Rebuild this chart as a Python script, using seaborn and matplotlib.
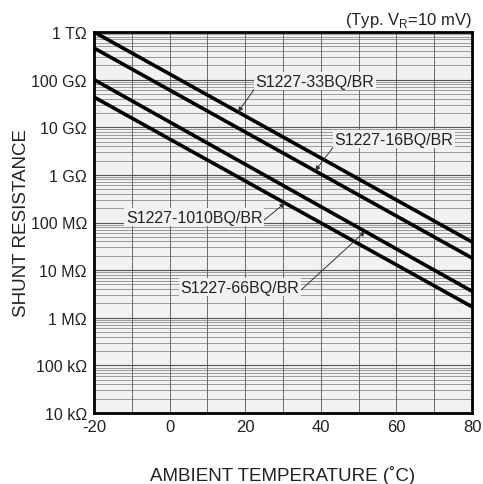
import numpy as np
import pandas as pd
import matplotlib
matplotlib.use("Agg")
import matplotlib.pyplot as plt
from matplotlib.ticker import FixedLocator, LogLocator, NullFormatter
import seaborn as sns

# ---- data ----
temperature = [-20, 80]
models = ["S1227-33BQ/BR", "S1227-16BQ/BR", "S1227-66BQ/BR", "S1227-1010BQ/BR"]
r_33 = [1.0e12, 3.9e7]
r_16 = [4.6e11, 1.8e7]
r_66 = [1.0e11, 3.6e6]
r_1010 = [4.3e10, 1.7e6]
series = [r_33, r_16, r_66, r_1010]

y_ticks = [1e4, 1e5, 1e6, 1e7, 1e8, 1e9, 1e10, 1e11, 1e12]
y_tick_labels = ["10 kΩ", "100 kΩ", "1 MΩ", "10 MΩ", "100 MΩ", "1 GΩ", "10 GΩ", "100 GΩ", "1 TΩ"]
x_ticks = [-20, 0, 20, 40, 60, 80]

# annotation: arrow tip temperature, text position, leader start (relpos)
ann_tip_temp = [18.1, 38.5, 51.7, 30.5]
ann_text_x = [38.5, 59.4, 18.6, 6.5]
ann_text_y = [9.3e10, 5.6e9, 4.4e6, 1.3e8]
ann_relpos = [(0, 0.1), (0, 0.1), (1, 0.2), (1, 0.2)]

rows = []
for m, vals in zip(models, series):
    for t, v in zip(temperature, vals):
        rows.append({"temp": t, "res": v, "model": m})
df = pd.DataFrame(rows)

sns.set_style("white")
plt.rcParams["font.family"] = ["Liberation Sans", "DejaVu Sans"]
plt.rcParams["mathtext.fontset"] = "custom"
plt.rcParams["mathtext.rm"] = "Liberation Sans"
plt.rcParams["axes.unicode_minus"] = False

fig = plt.figure(figsize=(4.83, 4.85), dpi=100)
ax = fig.add_axes([94 / 483, 1 - 414 / 485, 378 / 483, 381 / 485])
ax.set_facecolor("#f1f1f1")

sns.lineplot(data=df, x="temp", y="res", hue="model", palette=["black"] * 4,
             legend=False, linewidth=2.6, ax=ax, zorder=3)
ax.set_yscale("log")
ax.set_xlim(-20, 80)
ax.set_ylim(1e4, 1e12)

ax.yaxis.set_major_locator(FixedLocator(y_ticks))
ax.set_yticklabels(y_tick_labels)
ax.yaxis.set_minor_locator(LogLocator(base=10, subs=np.arange(2, 10), numticks=20))
ax.yaxis.set_minor_formatter(NullFormatter())
ax.xaxis.set_major_locator(FixedLocator(x_ticks))
ax.xaxis.set_minor_locator(FixedLocator(list(range(-20, 81, 10))))

ax.tick_params(axis="both", which="both", length=0, colors="#222222")
ax.tick_params(axis="y", labelsize=11.5, pad=5)
ax.tick_params(axis="x", labelsize=12, pad=4)

ax.grid(True, which="major", axis="y", color="#555555", linewidth=0.8)
ax.grid(True, which="minor", axis="y", color="#6a6a6a", linewidth=0.45)
ax.grid(True, which="both", axis="x", color="#555555", linewidth=0.6)

for s in ax.spines.values():
    s.set_visible(True)
    s.set_color("black")
    s.set_linewidth(2.0)

ax.set_xlabel("AMBIENT TEMPERATURE (˚C)", fontsize=13.5, color="#222222")
ax.xaxis.set_label_coords(0.5, -0.137)
ax.set_ylabel("SHUNT RESISTANCE", fontsize=13.5, color="#222222")
ax.yaxis.set_label_coords(-0.168, 0.5)

ax.text(1.0, 1.008, r"(Typ. V$_\mathregular{R}$=10 mV)", transform=ax.transAxes,
        ha="right", va="bottom", fontsize=12, color="#222222")

for m, vals, tt, tx, ty, rp in zip(models, series, ann_tip_temp, ann_text_x, ann_text_y, ann_relpos):
    tip_y = 10 ** np.interp(tt, temperature, np.log10(vals))
    ax.annotate(m, xy=(tt, tip_y), xytext=(tx, ty), textcoords="data",
                ha="center", va="center", fontsize=11.5, color="#222222",
                bbox=dict(boxstyle="square,pad=0.1", fc="#f1f1f1", ec="none"),
                arrowprops=dict(arrowstyle="-|>", color="#333333", lw=0.7,
                                mutation_scale=7, relpos=rp, shrinkA=0, shrinkB=0),
                zorder=4)

fig.savefig("out.png", dpi=100)
